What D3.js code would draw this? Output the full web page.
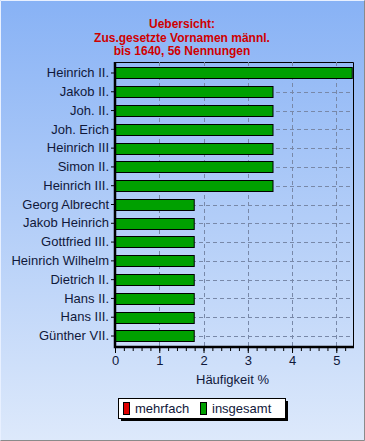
<!DOCTYPE html>
<meta charset="utf-8">
<style>
    body { margin: 0; }
    text { font-family: "Liberation Sans", Arial, sans-serif; }
</style>
<body>
<script src="https://d3js.org/d3.v7.min.js"></script>
<script>
    // names and share of mentions (%)
    var names = ["Heinrich II.", "Jakob II.", "Joh. II.", "Joh. Erich", "Heinrich III",
        "Simon II.", "Heinrich III.", "Georg Albrecht", "Jakob Heinrich", "Gottfried III.",
        "Heinrich Wilhelm", "Dietrich II.", "Hans II.", "Hans III.", "Günther VII."];
    var insgesamt = [5.36, 3.57, 3.57, 3.57, 3.57, 3.57, 3.57,
        1.79, 1.79, 1.79, 1.79, 1.79, 1.79, 1.79, 1.79];
    var xTicks = [0, 1, 2, 3, 4, 5];
    var titleLines = ["Uebersicht:", "Zus.gesetzte Vornamen männl.", "bis 1640, 56 Nennungen"];
    var legendItems = ["mehrfach", "insgesamt"];
    var legendColors = ["#e00000", "#00a000"];

    var W = 365, H = 441;
    var margin = {top: 62, right: 11, bottom: 94, left: 115};
    var width = W - margin.left - margin.right,
        height = H - margin.top - margin.bottom;

    var svg = d3.select("body").append("svg")
        .attr("width", W)
        .attr("height", H);

    // background gradient
    var grad = svg.append("defs").append("linearGradient")
        .attr("id", "bg").attr("x1", 0).attr("y1", 0).attr("x2", 0).attr("y2", 1);
    grad.append("stop").attr("offset", "0%").attr("stop-color", "#88b2f5");
    grad.append("stop").attr("offset", "100%").attr("stop-color", "#dde9fb");

    svg.append("rect").attr("width", W).attr("height", H).attr("fill", "url(#bg)");
    svg.append("path")
        .attr("d", "M0.5," + (H - 0.5) + "V0.5H" + (W - 0.5))
        .attr("fill", "none").attr("stroke", "#e8f0ff");
    svg.append("path")
        .attr("d", "M0.5," + (H - 0.5) + "H" + (W - 0.5) + "V0.5")
        .attr("fill", "none").attr("stroke", "#8a8a8a");

    // title
    svg.append("g").selectAll("text")
        .data(titleLines)
        .enter().append("text")
        .attr("x", 182)
        .attr("y", function(d, i) { return 28 + i * 13.5; })
        .attr("text-anchor", "middle")
        .attr("fill", "#d00000")
        .attr("font-size", "12px")
        .attr("font-weight", "bold")
        .text(function(d) { return d; });

    var g = svg.append("g")
        .attr("transform", "translate(" + margin.left + "," + margin.top + ")");

    var x = d3.scaleLinear().domain([0, 5.4]).range([0, width]);
    var y = d3.scaleBand().domain(names).range([0, height]).paddingInner(0.4).paddingOuter(0.285);

    // grid lines
    g.selectAll(".vgrid")
        .data(xTicks.slice(1))
        .enter().append("line")
        .attr("x1", function(d) { return Math.round(x(d)) + 0.5; })
        .attr("x2", function(d) { return Math.round(x(d)) + 0.5; })
        .attr("y1", 0).attr("y2", height)
        .attr("stroke", "#7888a8").attr("stroke-dasharray", "4,3");
    g.selectAll(".hgrid")
        .data(names)
        .enter().append("line")
        .attr("x1", 0).attr("x2", width)
        .attr("y1", function(d) { return Math.round(y(d) + y.bandwidth() / 2) + 0.5; })
        .attr("y2", function(d) { return Math.round(y(d) + y.bandwidth() / 2) + 0.5; })
        .attr("stroke", "#7888a8").attr("stroke-dasharray", "4,3");

    // bars
    g.selectAll(".bar")
        .data(insgesamt)
        .enter().append("rect")
        .attr("x", 0.5)
        .attr("y", function(d, i) { return Math.round(y(names[i])) + 0.5; })
        .attr("width", function(d) { return x(d) - 0.5; })
        .attr("height", Math.round(y.bandwidth()))
        .attr("fill", "#00a000")
        .attr("stroke", "#000");

    // frame
    g.append("path")
        .attr("d", "M0," + 0.5 + "H" + (width - 0.5) + "V" + height)
        .attr("fill", "none").attr("stroke", "#000");
    g.append("path")
        .attr("d", "M0,0V" + height + "H" + width)
        .attr("fill", "none").attr("stroke", "#000").attr("stroke-width", 2.5);

    // y axis
    var yAxis = g.append("g")
        .call(d3.axisLeft(y).tickSize(4).tickPadding(2));
    yAxis.select(".domain").remove();
    yAxis.selectAll("text")
        .attr("font-size", "13px")
        .attr("font-family", "'Liberation Sans', Arial, sans-serif")
        .attr("fill", "#10183a");

    // x axis with minor ticks
    var xAxisMinor = g.append("g")
        .attr("transform", "translate(0," + (height + 1) + ")")
        .call(d3.axisBottom(x).tickValues(d3.range(0, 5.4, 0.2)).tickSize(3).tickFormat(""));
    xAxisMinor.select(".domain").remove();

    var xAxis = g.append("g")
        .attr("transform", "translate(0," + (height + 1) + ")")
        .call(d3.axisBottom(x).tickValues(xTicks).tickSize(5).tickPadding(3).tickFormat(d3.format("d")));
    xAxis.select(".domain").remove();
    xAxis.selectAll("text")
        .attr("font-size", "13px")
        .attr("font-family", "'Liberation Sans', Arial, sans-serif")
        .attr("fill", "#10183a");

    // top inner ticks
    g.selectAll(".topTick")
        .data(xTicks.slice(1))
        .enter().append("line")
        .attr("x1", function(d) { return Math.round(x(d)) + 0.5; })
        .attr("x2", function(d) { return Math.round(x(d)) + 0.5; })
        .attr("y1", 0).attr("y2", 4)
        .attr("stroke", "#7888a8");

    g.append("text")
        .attr("x", width / 2 - 2)
        .attr("y", height + 37)
        .attr("text-anchor", "middle")
        .attr("font-size", "13px")
        .attr("fill", "#10183a")
        .text("Häufigkeit %");

    // legend
    var lg = svg.append("g").attr("transform", "translate(118,398)");
    lg.append("rect").attr("x", 3).attr("y", 3).attr("width", 167).attr("height", 20).attr("fill", "#000");
    lg.append("rect").attr("x", 0.5).attr("y", 0.5).attr("width", 167).attr("height", 20)
        .attr("fill", "#fff").attr("stroke", "#000");
    var li = lg.selectAll(".li")
        .data(legendItems)
        .enter().append("g")
        .attr("transform", function(d, i) { return "translate(" + (5 + i * 77) + ",0)"; });
    li.append("rect")
        .attr("x", 0.5).attr("y", 4.5).attr("width", 6).attr("height", 12)
        .attr("fill", function(d, i) { return legendColors[i]; })
        .attr("stroke", "#000");
    li.append("text")
        .attr("x", 12).attr("y", 15)
        .attr("font-size", "13px")
        .attr("fill", "#10183a")
        .text(function(d) { return d; });
</script>
</body>
